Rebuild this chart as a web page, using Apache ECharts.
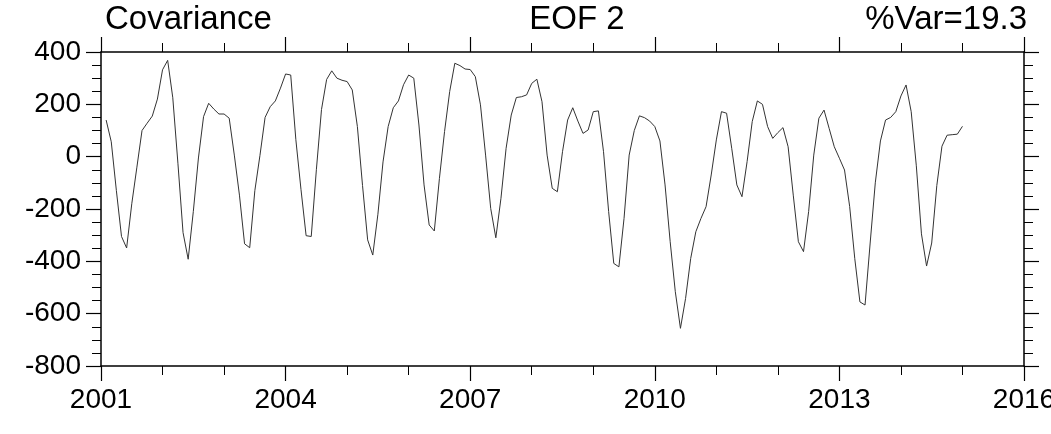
<!DOCTYPE html>
<html>
<head>
<meta charset="utf-8">
<script src="https://cdn.jsdelivr.net/npm/echarts@6/dist/echarts.min.js"></script>
<style>
  html, body { margin: 0; padding: 0; background: #fff; }
  #main { width: 1051px; height: 434px; }
</style>
</head>
<body>
<div id="main"></div>
<script>
// EOF 2 time series, one value per month (Jan 2001 .. Dec 2014)
var startYear = 2001;
var eof2Values = [
    140, 57, -130, -305, -349, -180, -40, 100, 128, 155, 220, 332,
    368, 225, -25, -290, -392, -210, -5, 153, 204, 182, 163, 163,
    147, 6, -147, -333, -348, -130, 5, 150, 191, 213, 262, 316,
    312, 65, -125, -302, -305, -50, 180, 295, 328, 300, 292, 287,
    255, 115, -110, -318, -376, -220, -20, 115, 187, 213, 275, 312,
    300, 121, -108, -261, -284, -83, 96, 249, 357, 348, 335, 333,
    306, 198, 6, -198, -310, -159, 32, 159, 226, 229, 236, 280,
    296, 210, 6, -121, -134, 19, 140, 187, 136, 89, 102, 172,
    175, 19, -210, -408, -421, -236, 6, 100, 156, 149, 136, 115,
    60, -108, -325, -516, -656, -542, -389, -287, -236, -191, -70, 64,
    172, 166, 32, -108, -153, -19, 134, 213, 200, 115, 70, 92,
    111, 38, -147, -325, -363, -210, 6, 147, 178, 108, 38, -6,
    -51, -190, -390, -555, -567, -330, -100, 60, 140, 150, 172, 232,
    274, 172, -35, -295, -418, -330, -110, 40, 82, 84, 86, 116
];
var yearTicks = [2001, 2004, 2007, 2010, 2013, 2016];
var valueTicks = [-800, -600, -400, -200, 0, 200, 400];
var titles = ['Covariance', 'EOF 2', '%Var=19.3'];

// time coordinate of each month
var seriesData = eof2Values.map(function (v, k) {
    return [startYear + (k + 1) / 12, v];
});

var font = 'Liberation Sans, Arial, Helvetica, sans-serif';
var axisCol = '#000';

function xAxisDef(pos, showLabel) {
    return {
        type: 'value',
        position: pos,
        min: yearTicks[0],
        max: yearTicks[yearTicks.length - 1],
        interval: yearTicks[1] - yearTicks[0],
        axisLine: { show: true, onZero: false, lineStyle: { color: axisCol, width: 1.5 } },
        axisTick: { show: true, inside: false, length: 15, lineStyle: { color: axisCol, width: 1.2 } },
        minorTick: { show: true, splitNumber: 3, length: 9, lineStyle: { color: axisCol, width: 1 } },
        splitLine: { show: false },
        axisLabel: {
            show: showLabel, margin: 20, color: '#000', fontSize: 28, fontFamily: font,
            showMinLabel: true, showMaxLabel: true, hideOverlap: false,
            formatter: function (v) { return String(v); }
        }
    };
}
function yAxisDef(pos, showLabel) {
    return {
        type: 'value',
        position: pos,
        min: valueTicks[0],
        max: valueTicks[valueTicks.length - 1],
        interval: valueTicks[1] - valueTicks[0],
        axisLine: { show: true, onZero: false, lineStyle: { color: axisCol, width: 1.5 } },
        axisTick: { show: true, inside: false, length: 15, lineStyle: { color: axisCol, width: 1.2 } },
        minorTick: { show: true, splitNumber: 4, length: 9, lineStyle: { color: axisCol, width: 1 } },
        splitLine: { show: false },
        axisLabel: {
            show: showLabel, margin: 20, color: '#000', fontSize: 28, fontFamily: font,
            showMinLabel: true, showMaxLabel: true
        }
    };
}

var titleStyle = { fontSize: 33, fontWeight: 'normal', color: '#000', fontFamily: font };

var myChart = echarts.init(document.getElementById('main'), null, { renderer: 'canvas' });
var option = {
    animation: false,
    backgroundColor: '#fff',
    title: [
        { text: titles[0], left: 105, top: 3, padding: 0, textStyle: titleStyle },
        { text: titles[1], left: 577, top: 3, padding: 0, textAlign: 'center', textStyle: titleStyle },
        { text: titles[2], right: 24, top: 3, padding: 0, textStyle: titleStyle }
    ],
    grid: { left: 101, right: 27, top: 52, bottom: 68, containLabel: false, outerBoundsMode: 'none' },
    xAxis: [xAxisDef('bottom', true), xAxisDef('top', false)],
    yAxis: [yAxisDef('left', true), yAxisDef('right', false)],
    series: [{
        type: 'line',
        xAxisIndex: 0,
        yAxisIndex: 0,
        data: seriesData,
        showSymbol: false,
        symbol: 'none',
        lineStyle: { color: '#333', width: 1 }
    }]
};
myChart.setOption(option);
</script>
</body>
</html>
